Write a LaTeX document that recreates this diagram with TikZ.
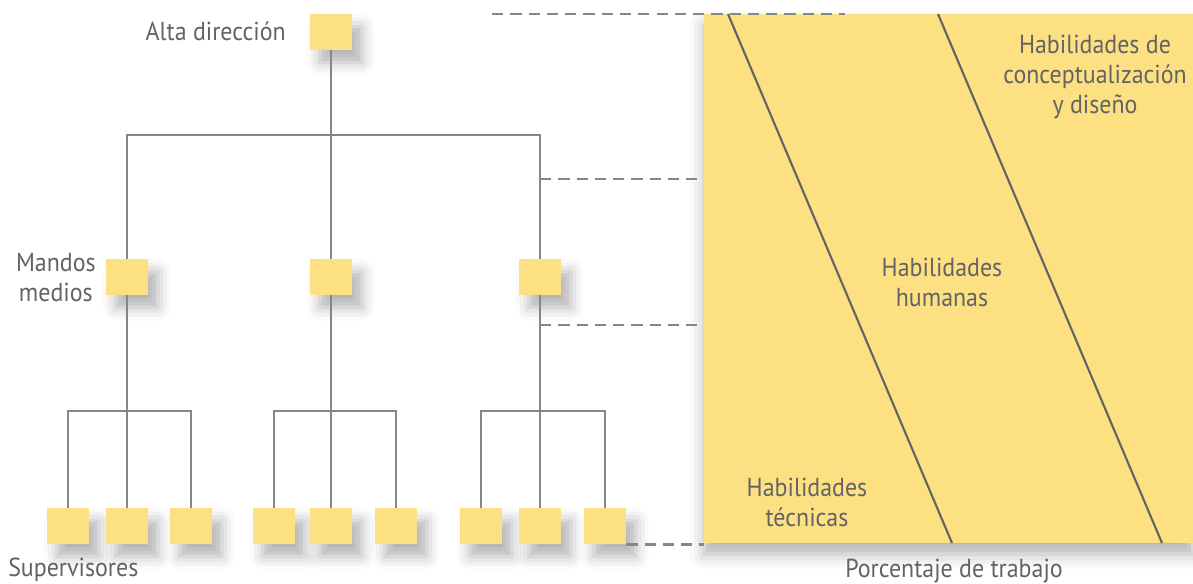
\documentclass[tikz,border=0pt]{standalone}
\usepackage{fontspec}
\setmainfont{Open Sans}
\newfontfamily\condfont[FakeStretch=0.92]{PT Sans}
\usepackage{xcolor}
\usepackage{tikz}
\usetikzlibrary{positioning,shadows.blur}
\definecolor{boxyellow}{RGB}{253,224,130}
\definecolor{linegray}{RGB}{133,134,136}
\definecolor{textgray}{RGB}{98,99,102}
\begin{document}
\begin{tikzpicture}[x=0.025cm,y=-0.025cm,
  post/.style={fill=boxyellow,minimum width=1.05cm,minimum height=0.9cm,inner sep=0pt,
    blur shadow={shadow xshift=7pt,shadow yshift=-9pt,shadow blur radius=9pt,shadow opacity=30}},
  tree/.style={linegray,line width=1.5pt},
  dashline/.style={linegray,line width=2pt,dash pattern=on 8pt off 5pt},
  lefttext/.style={textgray,font=\condfont\fontsize{18.5}{21.3}\selectfont,inner sep=0pt},
  skilltext/.style={lefttext,align=center}]
\useasboundingbox (0,0) rectangle (1193,584);
\node[fill=boxyellow,minimum width=12.225cm,minimum height=13.225cm,inner sep=0pt,
  blur shadow={shadow xshift=0pt,shadow yshift=-8pt,shadow blur radius=10pt,shadow opacity=30}] (chart) at (948.5,278.5) {};
\draw[textgray,line width=1.5pt](728,14) -- (952,543);
\draw[textgray,line width=1.5pt](938,14) -- (1162,543);
\node[post] (top) at (331,32) {};
\node[post] (m1) at (127,277) {};
\node[post] (m2) at (331,277) {};
\node[post] (m3) at (540,277) {};
\node[post] (s11) at (68,526) {};
\node[post] (s12) at (127,526) {};
\node[post] (s13) at (191,526) {};
\node[post] (s21) at (274,526) {};
\node[post] (s22) at (331,526) {};
\node[post] (s23) at (396,526) {};
\node[post] (s31) at (481,526) {};
\node[post] (s32) at (540,526) {};
\node[post] (s33) at (605,526) {};
\coordinate (j0) at (331,135);
\coordinate (j1) at (127,411);
\coordinate (j2) at (331,411);
\coordinate (j3) at (540,411);
\draw[tree](top) -- (j0);
\draw[tree](m1) |- (j0) -| (m3);
\draw[tree](j0) -- (m2);
\draw[tree](m1) -- (s12);
\draw[tree](s11) |- (j1) -| (s13);
\draw[tree](m2) -- (s22);
\draw[tree](s21) |- (j2) -| (s23);
\draw[tree](m3) -- (s32);
\draw[tree](s31) |- (j3) -| (s33);
\coordinate (d0) at (492,14);
\coordinate (d0e) at (845,14);
\coordinate (d1) at (540,179);
\coordinate (d2) at (540,325);
\draw[dashline](d0) -- (d0e);
\draw[dashline](d1) -- (d1 -| chart.west);
\draw[dashline](d2) -- (d2 -| chart.west);
\draw[dashline](s33.south east) -- (s33.south east -| chart.west);
\node[lefttext,anchor=east] (altadir) at (286,31) {Alta dirección};
\node[lefttext,anchor=east,align=center] (mandos) at (96,278) {Mandos\\medios};
\node[lefttext,anchor=west] (superv) at (8,570) {Supervisores};
\node[skilltext] (concept) at (1095,77) {Habilidades de\\conceptualización\\y diseño};
\node[skilltext] (humanas) at (942,282) {Habilidades\\humanas};
\node[skilltext] (tecnicas) at (807,502) {Habilidades\\técnicas};
\node[lefttext] (porcentaje) at (954,571) {Porcentaje de trabajo};
\end{tikzpicture}
\end{document}
